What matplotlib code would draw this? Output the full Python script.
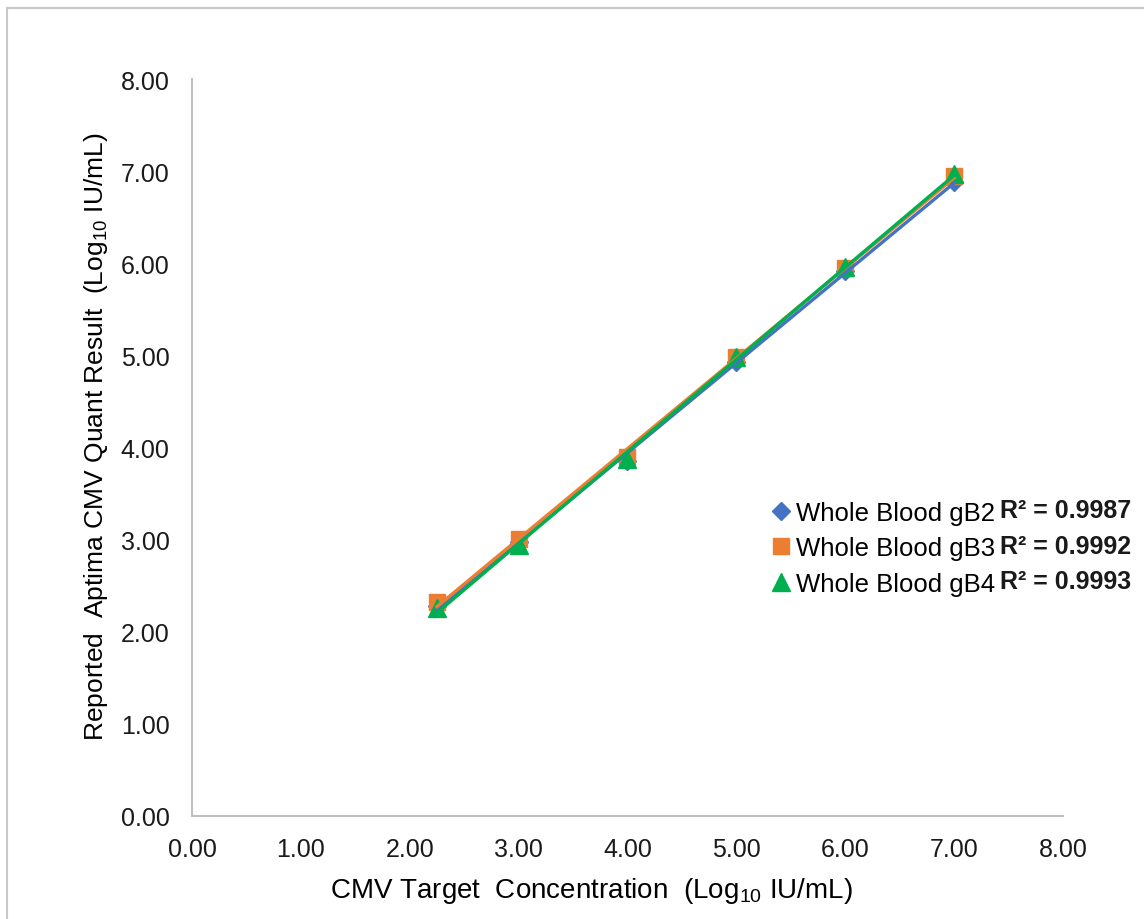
import matplotlib.pyplot as plt
import numpy as np
from matplotlib.lines import Line2D
from matplotlib.patches import Rectangle

plt.rcParams['font.family'] = ['Liberation Sans', 'DejaVu Sans']
plt.rcParams['mathtext.fontset'] = 'custom'
plt.rcParams['mathtext.rm'] = 'Liberation Sans'

# data
target = [2.25, 3.0, 4.0, 5.0, 6.0, 7.0]
gb2 = [2.28, 2.97, 3.85, 4.93, 5.92, 6.88]
gb3 = [2.32, 3.01, 3.90, 4.98, 5.95, 6.95]
gb4 = [2.26, 2.94, 3.87, 4.98, 5.96, 6.97]
labels = ['Whole Blood gB2', 'Whole Blood gB3', 'Whole Blood gB4']
r2_text = ['R² = 0.9987', 'R² = 0.9992', 'R² = 0.9993']

colors = ['#4472C4', '#ED7D31', '#00B050']
markers = ['D', 's', '^']
msizes = [9, 12, 13]

fig = plt.figure(figsize=(11.44, 9.2), dpi=100)
ax = fig.add_axes([0.1678, 0.1120, 0.7614, 0.8010])

x = np.array(target)
handles = []
for ys, c, m, ms in zip([gb2, gb3, gb4], colors, markers, msizes):
    ax.plot(x, ys, linestyle='none', marker=m, color=c, markersize=ms, zorder=2)
    # linear trendline
    k, b = np.polyfit(x, ys, 1)
    ax.plot(x, k * x + b, color=c, linewidth=2.4, zorder=3)
    handles.append(Line2D([], [], linestyle='none', marker=m, color=c, markersize=ms))

ax.set_xlim(0, 8)
ax.set_ylim(0, 8)
ticks = np.arange(0, 9, 1)
ax.set_xticks(ticks)
ax.set_yticks(ticks)
ax.set_xticklabels(['%.2f' % t for t in ticks])
ax.set_yticklabels(['%.2f' % t for t in ticks])
ax.tick_params(length=0, labelsize=18, colors='#1a1a1a')
ax.tick_params(axis='x', pad=15)
ax.tick_params(axis='y', pad=16)

for s in ['top', 'right']:
    ax.spines[s].set_visible(False)
for s in ['left', 'bottom']:
    ax.spines[s].set_color('#bfbfbf')
    ax.spines[s].set_linewidth(1.5)

ax.set_xlabel('CMV Target  Concentration  (Log$_{10}$ IU/mL)', fontsize=20, labelpad=10, x=0.459)
ax.set_ylabel('Reported  Aptima CMV Quant Result  (Log$_{10}$ IU/mL)', fontsize=19, labelpad=7.5, y=0.5156)

leg = ax.legend(handles, labels, loc='upper left', bbox_to_anchor=(755 / 1144, 1 - 489 / 920),
                bbox_transform=fig.transFigure, frameon=False, fontsize=18.5,
                handletextpad=0.1, handlelength=1.0, labelspacing=0.45, borderpad=0)

for i, t in enumerate(r2_text):
    fig.text(1000 / 1144, 1 - (511 + 35.5 * i) / 920, t, fontsize=18, fontweight='bold',
             va='center', ha='left', color='#1a1a1a')

fig.patches.append(Rectangle((7 / 1144, -0.1), 1.2, 1.1 - 9 / 920, transform=fig.transFigure,
                             fill=False, edgecolor='#c8c8c8', linewidth=1.5))

fig.savefig('out.png', dpi=100)
